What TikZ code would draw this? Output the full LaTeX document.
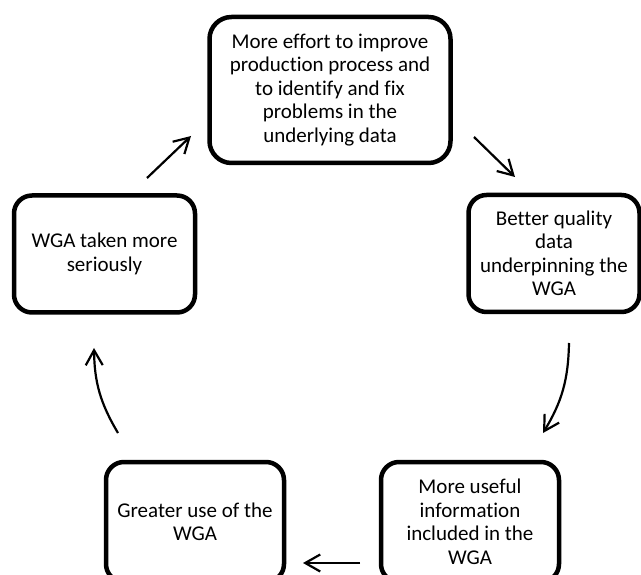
\documentclass[tikz,border=0pt]{standalone}
\usepackage{fontspec}
\setmainfont[Ligatures=NoCommon]{Carlito}
\usetikzlibrary{arrows.meta}
\begin{document}
\begin{tikzpicture}[x=1pt,y=-1pt,
  box/.style={draw,line width=4.5pt,rounded corners=18pt,align=center,inner sep=0pt,
    font=\fontsize{21}{23.5}\selectfont},
  sidebox/.style={box,minimum width=178pt,minimum height=117pt},
  arr/.style={line width=2.2pt,-{Straight Barb[length=15pt,width=17pt]}}]
\useasboundingbox (0,0) rectangle (641,575);
\clip (0,0) rectangle (641,575);
\node[box,minimum width=241pt,minimum height=146pt,rounded corners=22pt] (top) at (330,90)
  {More effort to improve\\production process and\\to identify and fix\\problems in the\\underlying data};
\node[sidebox,minimum width=171pt] (right) at (554,253.5)
  {Better quality\\data\\underpinning the\\WGA};
\node[sidebox,minimum height=120pt] (botright) at (470,522)
  {More useful\\information\\included in the\\WGA};
\node[sidebox,minimum height=120pt] (botleft) at (195,522)
  {Greater use of the\\WGA};
\node[sidebox,minimum width=181pt] (left) at (104.5,254)
  {WGA taken more\\seriously};
\coordinate (a1s) at (147,178); \coordinate (a1e) at (191,136);
\coordinate (a2s) at (474,137); \coordinate (a2e) at (515,177);
\coordinate (a3s) at (569,343); \coordinate (a3e) at (543,433);
\coordinate (a4s) at (360,563); \coordinate (a4e) at (303,563);
\coordinate (a5s) at (118,433); \coordinate (a5e) at (94,348);
\draw[arr] (a1s) -- (a1e);
\draw[arr] (a2s) -- (a2e);
\draw[arr] (a3s) to[bend left=15] (a3e);
\draw[arr] (a4s) -- (a4e);
\draw[arr] (a5s) to[bend left=15] (a5e);
\end{tikzpicture}
\end{document}
